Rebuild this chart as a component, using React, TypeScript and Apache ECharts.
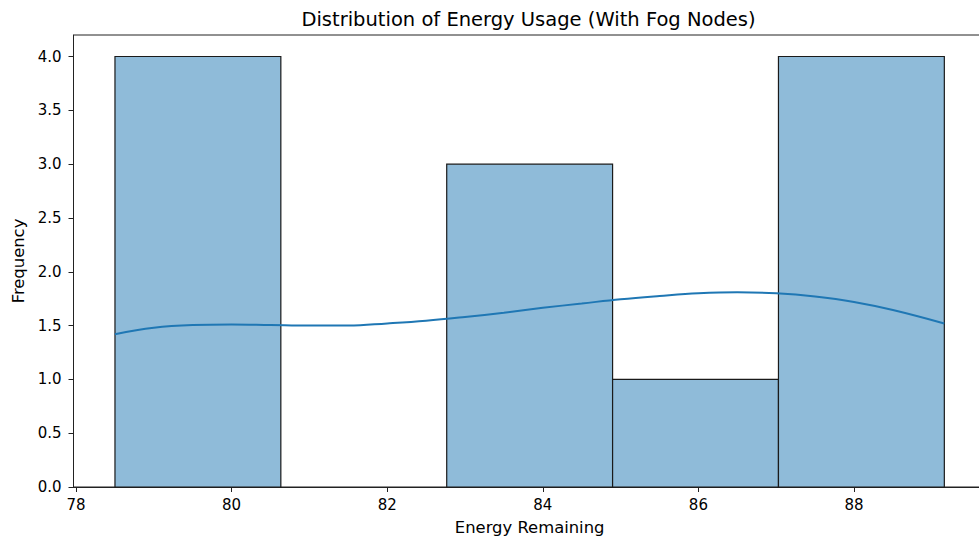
import React, { useEffect, useRef } from "react";
import * as echarts from "echarts";

const binEdges = [78.501, 80.633, 82.765, 84.897, 87.029, 89.161];
const binCounts = [4, 0, 3, 1, 4];
const kdeX = [78.5, 79.0, 79.5, 80.0, 80.5, 81.0, 81.5, 82.0, 82.5, 83.0, 83.5, 84.0, 84.5, 85.0, 85.5, 86.0, 86.5, 87.0, 87.5, 88.0, 88.5, 89.16];
const kdeY = [1.42, 1.48, 1.505, 1.51, 1.505, 1.5, 1.5, 1.52, 1.545, 1.58, 1.62, 1.665, 1.705, 1.745, 1.775, 1.8, 1.81, 1.8, 1.77, 1.72, 1.645, 1.52];
const xTicks = [78, 80, 82, 84, 86, 88];
const yTicks = [0, 0.5, 1, 1.5, 2, 2.5, 3, 3.5, 4];

const FONT = "DejaVu Sans";

export default function App() {
  const ref = useRef<HTMLDivElement>(null);
  useEffect(() => {
    if (!ref.current) return;
    const chart = echarts.init(ref.current, null, { renderer: "svg" });
    const bins = binCounts.map((c, i) => [binEdges[i], binEdges[i + 1], c]);
    const kde = kdeX.map((x, i) => [x, kdeY[i]]);
    chart.setOption({
      animation: false,
      backgroundColor: "#ffffff",
      title: {
        text: "Distribution of Energy Usage (With Fog Nodes)",
        left: 523.5,
        textAlign: "center",
        top: 4,
        textStyle: { fontFamily: FONT, fontSize: 19.5, fontWeight: "normal", color: "#000" },
      },
      grid: {
        left: 73.5,
        top: 35,
        width: 912.3,
        height: 452,
        show: true,
        borderColor: "#222",
        borderWidth: 1,
        backgroundColor: "transparent",
      },
      xAxis: {
        type: "value",
        min: 77.968,
        max: 89.694,
        name: "Energy Remaining",
        nameLocation: "middle",
        nameGap: 32,
        nameTextStyle: { fontFamily: FONT, fontSize: 16.4, color: "#000" },
        axisLine: { show: true, lineStyle: { color: "#222", width: 1 } },
        axisTick: { show: true, customValues: xTicks, length: 5, lineStyle: { color: "#222" } },
        axisLabel: {
          customValues: xTicks,
          fontFamily: FONT,
          fontSize: 15,
          color: "#000",
          margin: 10,
          formatter: (v: number) => String(v),
        },
        splitLine: { show: false },
      },
      yAxis: {
        type: "value",
        min: 0,
        max: 4.2,
        name: "Frequency",
        nameLocation: "middle",
        nameGap: 44,
        nameTextStyle: { fontFamily: FONT, fontSize: 16.4, color: "#000" },
        axisLine: { show: true, lineStyle: { color: "#222", width: 1 } },
        axisTick: { show: true, customValues: yTicks, length: 5, lineStyle: { color: "#222" } },
        axisLabel: {
          customValues: yTicks,
          fontFamily: FONT,
          fontSize: 15,
          color: "#000",
          margin: 12,
          formatter: (v: number) => v.toFixed(1),
        },
        splitLine: { show: false },
      },
      series: [
        {
          type: "custom",
          data: bins,
          encode: { x: [0, 1], y: 2 },
          renderItem: (params: any, api: any) => {
            const x0 = api.value(0);
            const x1 = api.value(1);
            const c = api.value(2);
            if (!c) return null;
            const p0 = api.coord([x0, c]);
            const p1 = api.coord([x1, 0]);
            return {
              type: "rect",
              shape: { x: p0[0], y: p0[1], width: p1[0] - p0[0], height: p1[1] - p0[1] },
              style: { fill: "#8fbbd9", stroke: "#1a1a1a", lineWidth: 1.2 },
            };
          },
          z: 2,
        },
        {
          type: "line",
          data: kde,
          smooth: 0.4,
          showSymbol: false,
          symbol: "none",
          lineStyle: { color: "#1f77b4", width: 2 },
          z: 3,
        },
      ],
    });
    return () => chart.dispose();
  }, []);
  return (
    <div style={{ position: "fixed", left: 0, top: 0, width: 979, height: 541, overflow: "hidden", background: "#fff" }}>
      <div ref={ref} style={{ width: 1000, height: 541 }} />
    </div>
  );
}
